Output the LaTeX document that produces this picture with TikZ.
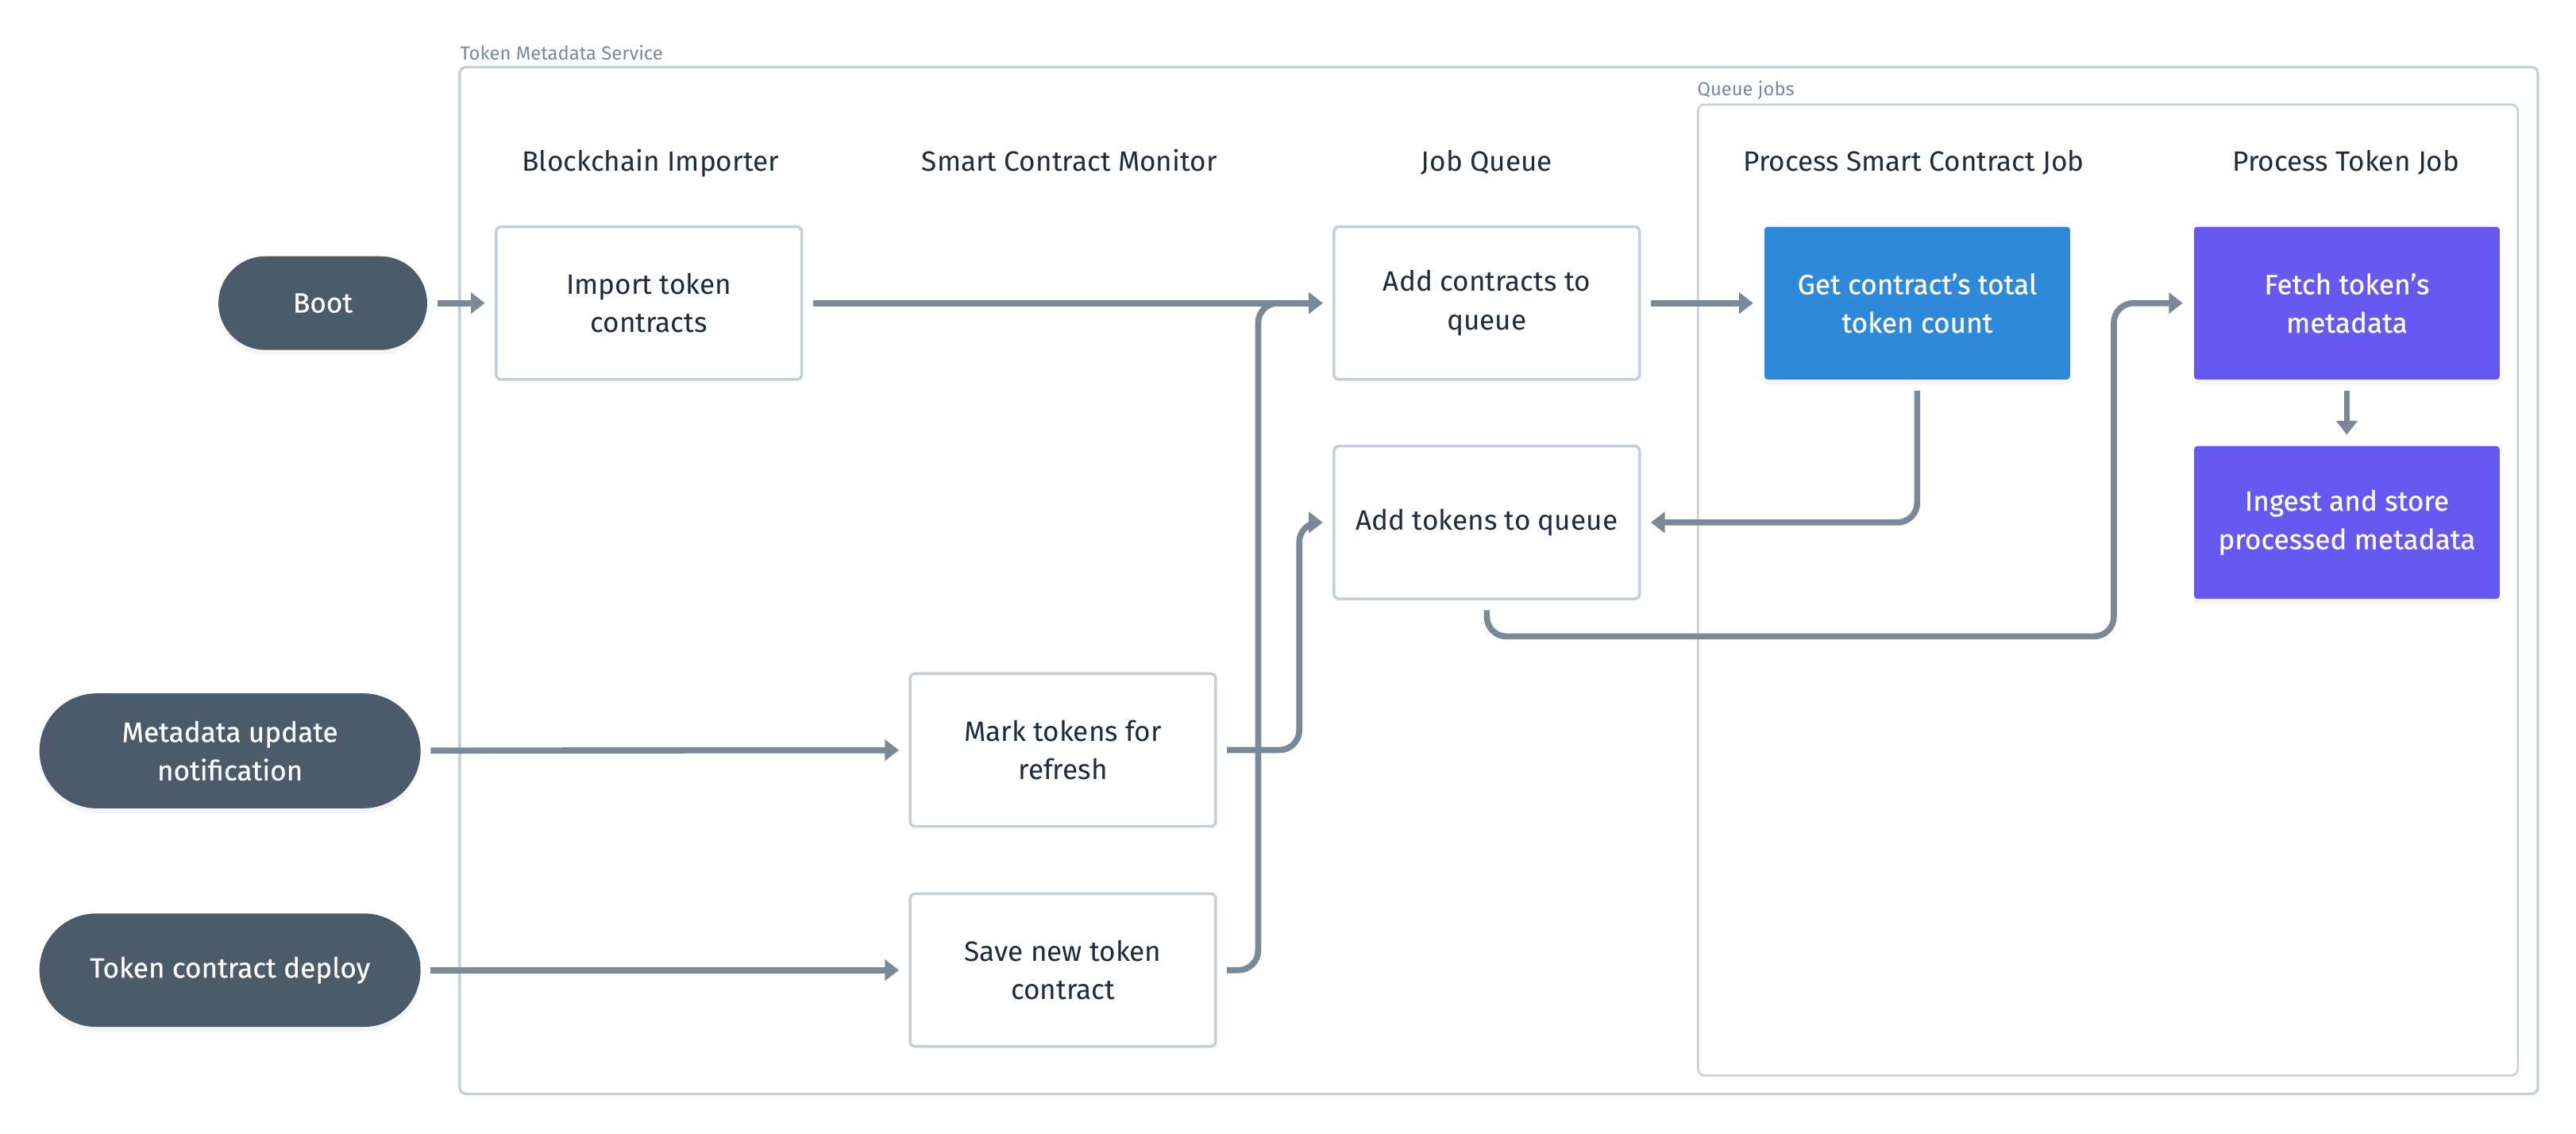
\documentclass[tikz,border=0pt]{standalone}
\usepackage{fontspec}
\setmainfont{Fira Sans}
\newfontfamily\strongfont{Fira Sans}[FakeBold=0.5]
\usetikzlibrary{arrows.meta,calc,shadows}

\definecolor{pillgray}{HTML}{4B5B6A}
\definecolor{boxedge}{HTML}{C5CFD9}
\definecolor{wire}{HTML}{7A8998}
\definecolor{ink}{HTML}{1E2B3A}
\definecolor{jobblue}{HTML}{2E8AD9}
\definecolor{jobpurple}{HTML}{6659F2}

\begin{document}
\begin{tikzpicture}[x=1pt,y=-1pt,
  every node/.style={font=\fontsize{17}{23.4}\selectfont, text=ink, inner sep=0pt},
  group/.style={draw=boxedge, rounded corners=4pt, anchor=north west},
  grouplabel/.style={font=\fontsize{11.5}{13}\selectfont, text=wire, anchor=south west},
  header/.style={anchor=base},
  event/.style={fill=pillgray, text=white, align=center, minimum width=232pt,
    font=\fontsize{17}{23.4}\strongfont,
    drop shadow={shadow xshift=0pt, shadow yshift=-3pt, opacity=0.08}},
  task/.style={draw=boxedge, line width=1.7pt, rounded corners=3pt, fill=white,
    minimum width=186pt, minimum height=93pt, align=center},
  job/.style={task, draw=none, text=white, rounded corners=2pt,
    font=\fontsize{17}{23.4}\strongfont,
    drop shadow={shadow xshift=0pt, shadow yshift=-3pt, opacity=0.08}},
  flow/.style={draw=wire, line width=3.7pt, rounded corners=12pt,
    -{Triangle[width=12.5pt,length=8.5pt]}, shorten <=6pt, shorten >=6pt}
]
\useasboundingbox (0,0) rectangle (1568,690.2);

% frames
\node (service) [group, line width=1.6pt, minimum width=1265pt, minimum height=625pt] at (279,40) {};
\node [grouplabel] at ($(service.north west)+(1,-3)$) {Token Metadata Service};
\node (queuejobs) [group, line width=1.2pt, minimum width=499pt, minimum height=591pt] at (1033,63) {};
\node [grouplabel] at ($(queuejobs.north west)+(0,-2)$) {Queue jobs};

% column headers
\node [header] at (396,104) {Blockchain Importer};
\node [header] at (651,104) {Smart Contract Monitor};
\node [header] at (905,104) {Job Queue};
\node [header] at (1165,104) {Process Smart Contract Job};
\node [header] at (1428,104) {Process Token Job};

% events
\node (boot) [event, minimum width=127pt, minimum height=57pt, rounded corners=28.5pt] at (196.5,184.5) {Boot};
\node (notify) [event, minimum height=70pt, rounded corners=35pt] at (140,457) {Metadata update\\notification};
\node (deploy) [event, minimum height=69pt, rounded corners=34.5pt] at (140,590.5) {Token contract deploy};

% tasks
\node (import) [task] at (395,184.5) {Import token\\contracts};
\node (addc) [task] at (905,184.5) {Add contracts to\\queue};
\node (addt) [task] at (905,318) {Add tokens to queue};
\node (mark) [task] at (647,456.5) {Mark tokens for\\refresh};
\node (save) [task] at (647,590.5) {Save new token\\contract};
\node (getc) [job, fill=jobblue] at (1167,184.5) {Get contract’s total\\token count};
\node (fetch) [job, fill=jobpurple] at (1428.5,184.5) {Fetch token’s\\metadata};
\node (ingest) [job, fill=jobpurple] at (1428.5,318) {Ingest and store\\processed metadata};

% connectors
\draw [flow] (boot) -- (import);
\draw [flow] (import) -- (addc);
\draw [flow] (addc) -- (getc);
\draw [flow] (getc.south) |- (addt.east);
\draw [flow] (addt.south) -- ++(0,22) -| ($(fetch.west)+(-48,0)$) -- (fetch.west);
\draw [flow] (fetch) -- (ingest);
\draw [flow] (notify) -- (mark);
\draw [flow] (deploy) -- (save);
\draw [flow] (mark.east) -- ++(50,0) |- (addt.west);
\draw [flow] (save.east) -- ++(25,0) |- (addc.west);
\end{tikzpicture}
\end{document}
